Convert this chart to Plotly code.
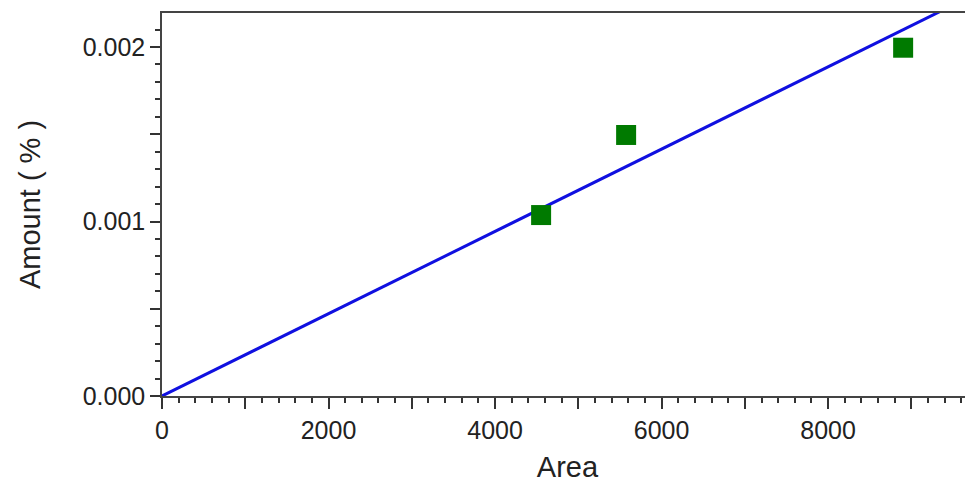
import plotly.graph_objects as go

# Data
area = [4553, 5574, 8901]
amount = [0.001037, 0.001496, 0.001996]

# Calibration line endpoints (through origin)
line_x = [0, 9740]
line_y = [0, 0.002297]

x_tickvals = [0, 1000, 2000, 3000, 4000, 5000, 6000, 7000, 8000, 9000]
x_ticktext = ["0", "", "2000", "", "4000", "", "6000", "", "8000", ""]
y_tickvals = [0, 0.0005, 0.001, 0.0015, 0.002]
y_ticktext = ["0.000", "", "0.001", "", "0.002"]

fig = go.Figure()
fig.add_trace(go.Scatter(x=line_x, y=line_y, mode="lines",
                         line=dict(color="#1010e0", width=3), showlegend=False))
fig.add_trace(go.Scatter(x=area, y=amount, mode="markers",
                         marker=dict(symbol="square", size=20, color="#007a00",
                                     line=dict(width=0)), showlegend=False))

font = "Liberation Sans, Arial, sans-serif"
fig.update_layout(
    width=965, height=477,
    margin=dict(l=154, r=0, t=5, b=89),
    plot_bgcolor="white", paper_bgcolor="white",
    font=dict(family=font, color="#222222"),
    xaxis=dict(range=[0, 9740], tickmode="array", tickvals=x_tickvals, ticktext=x_ticktext,
               ticks="outside", ticklen=11, tickwidth=1.5, tickcolor="#333",
               showline=True, linecolor="#444", linewidth=1.5, mirror=True,
               showgrid=False, zeroline=False,
               tickfont=dict(size=25),
               minor=dict(tickmode="linear", tick0=0, dtick=200, ticks="outside",
                          ticklen=5, tickwidth=1.5, tickcolor="#333", showgrid=False),
               title=dict(text="Area", font=dict(size=29), standoff=14)),
    yaxis=dict(range=[0, 0.002195], tickmode="array", tickvals=y_tickvals, ticktext=y_ticktext,
               ticks="outside", ticklen=10, tickwidth=1.5, tickcolor="#333",
               showline=True, linecolor="#444", linewidth=1.5,
               showgrid=False, zeroline=False,
               tickfont=dict(size=25),
               minor=dict(tickmode="linear", tick0=0, dtick=0.0001, ticks="outside",
                          ticklen=5, tickwidth=1.5, tickcolor="#333", showgrid=False),
               title=dict(text="Amount ( % )", font=dict(size=29), standoff=34)),
)

fig.write_html("out.html")
